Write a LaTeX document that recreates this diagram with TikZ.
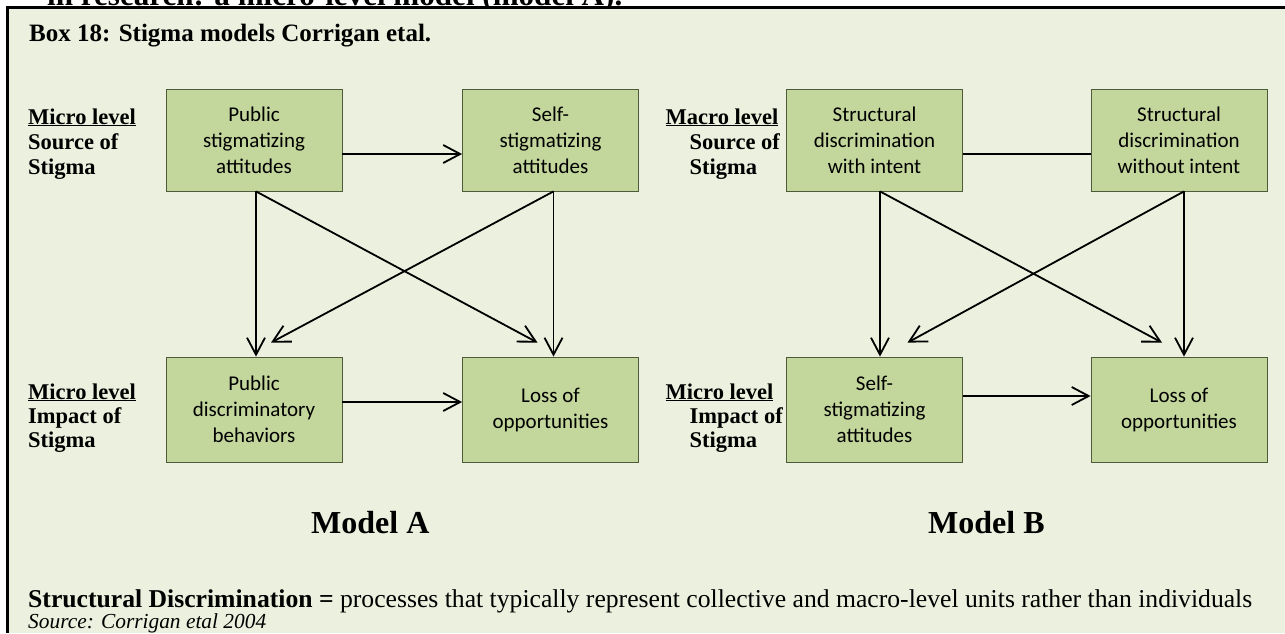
\documentclass[tikz,border=0pt]{standalone}
\usepackage{fontspec}
\setmainfont{Liberation Serif}
\newfontfamily\calib{Carlito}
\usetikzlibrary{arrows.meta}

\definecolor{panelbg}{HTML}{EBF1DE}
\definecolor{boxfill}{HTML}{C3D69B}
\definecolor{boxline}{HTML}{4F5A3A}

\tikzset{
  box/.style={draw=boxline, fill=boxfill, line width=0.8pt,
    minimum width=176pt, minimum height=102pt, inner sep=0pt,
    align=center, font=\calib\fontsize{21}{26}\selectfont},
  boxlow/.style={box, minimum height=105pt},
  lbl/.style={anchor=base west, inner sep=0pt,
    font=\bfseries\fontsize{22.5}{25}\selectfont},
  heading/.style={anchor=base west, inner sep=0pt},
  arr/.style={line width=1.8pt, -{Straight Barb[length=17pt,width=18pt]}},
  link/.style={line width=1.8pt},
}

\begin{document}
\begin{tikzpicture}[x=1pt, y=-1pt]
\useasboundingbox (0,0) rectangle (1285,633);

% text running above the panel, cut off by its edge
\begin{scope}
  \clip (0,0) rectangle (1285,6.5);
  \node[heading] (lead) at (47,5)
    {\resizebox{575pt}{!}{\bfseries\fontsize{28}{30}\selectfont in research: a micro-level model (model A).}};
\end{scope}

% panel
\fill[panelbg] (7.5,7.5) rectangle (1285,633);
\draw[line width=2.2pt, line join=miter] (1285,7.5) -- (7.5,7.5) -- (7.5,633);

\node[heading] (title) at (29,41)
  {\bfseries\fontsize{25}{28}\selectfont Box 18: Stigma models Corrigan etal.};

% ---------- Model A ----------
\node[box]    (A1) at (254,140)   {Public\\stigmatizing\\attitudes};
\node[box]    (A2) at (550.5,140) {Self-\\stigmatizing\\attitudes};
\node[boxlow] (A3) at (254,409.5) {Public\\discriminatory\\behaviors};
\node[boxlow] (A4) at (550.5,409.5) {Loss of\\opportunities};

\node[lbl] (a1) at (28,124) {\underline{Micro level}};
\node[lbl] (a2) at (28,149) {Source of};
\node[lbl] (a3) at (28,174) {Stigma};
\node[lbl] (a4) at (28,399) {\underline{Micro level}};
\node[lbl] (a5) at (28,423) {Impact of};
\node[lbl] (a6) at (28,447) {Stigma};

\draw[arr] ([yshift=-14pt]A1.east) -- ([yshift=-14pt]A2.west);
\draw[arr] ([xshift=2pt]A1.south) -- ([xshift=2pt]A3.north);
\draw[arr] ([xshift=2pt]A1.south) -- ([xshift=-13pt,yshift=14pt]A4.north);
\draw[arr] ([xshift=3pt]A2.south) -- ([xshift=3pt]A4.north);
\draw[arr] ([xshift=3pt]A2.south) -- ([xshift=17pt,yshift=14pt]A3.north);
\draw[arr] ([yshift=7.5pt]A3.east) -- ([yshift=7.5pt]A4.west);

\node[heading] (mA) at (311,533) {\bfseries\fontsize{32}{34}\selectfont Model A};

% ---------- Model B ----------
\node[box]    (B1) at (874.5,140) {Structural\\discrimination\\with intent};
\node[box]    (B2) at (1179,140)  {Structural\\discrimination\\without intent};
\node[boxlow] (B3) at (874.5,409.5) {Self-\\stigmatizing\\attitudes};
\node[boxlow] (B4) at (1179,409.5)  {Loss of\\opportunities};

\node[lbl] (b1) at (665.5,124) {\underline{Macro level}};
\node[lbl] (b2) at (689.5,149) {Source of};
\node[lbl] (b3) at (689.5,174) {Stigma};
\node[lbl] (b4) at (665.5,399) {\underline{Micro level}};
\node[lbl] (b5) at (689.5,423) {Impact of};
\node[lbl] (b6) at (689.5,447) {Stigma};

\draw[link] ([yshift=-14pt]B1.east) -- ([yshift=-14pt]B2.west);
\draw[arr] ([xshift=5.5pt]B1.south) -- ([xshift=5.5pt]B3.north);
\draw[arr] ([xshift=5.5pt]B1.south) -- ([xshift=-17pt,yshift=14pt]B4.north);
\draw[arr] ([xshift=5pt]B2.south) -- ([xshift=5pt]B4.north);
\draw[arr] ([xshift=5pt]B2.south) -- ([xshift=33pt,yshift=14pt]B3.north);
\draw[arr] ([yshift=13.5pt]B3.east) -- ([yshift=13.5pt]B4.west);

\node[heading] (mB) at (928,533) {\bfseries\fontsize{32}{34}\selectfont Model B};

% ---------- footnotes ----------
\node[heading] (defn) at (28,607.5)
  {\resizebox{1224pt}{!}{\fontsize{22}{24}\selectfont\textbf{Structural Discrimination =} processes that typically represent collective and macro-level units rather than individuals}};
\node[heading] (src) at (28,628)
  {\resizebox{238pt}{!}{\itshape\fontsize{20}{22}\selectfont Source: Corrigan etal 2004}};
\end{tikzpicture}
\end{document}
